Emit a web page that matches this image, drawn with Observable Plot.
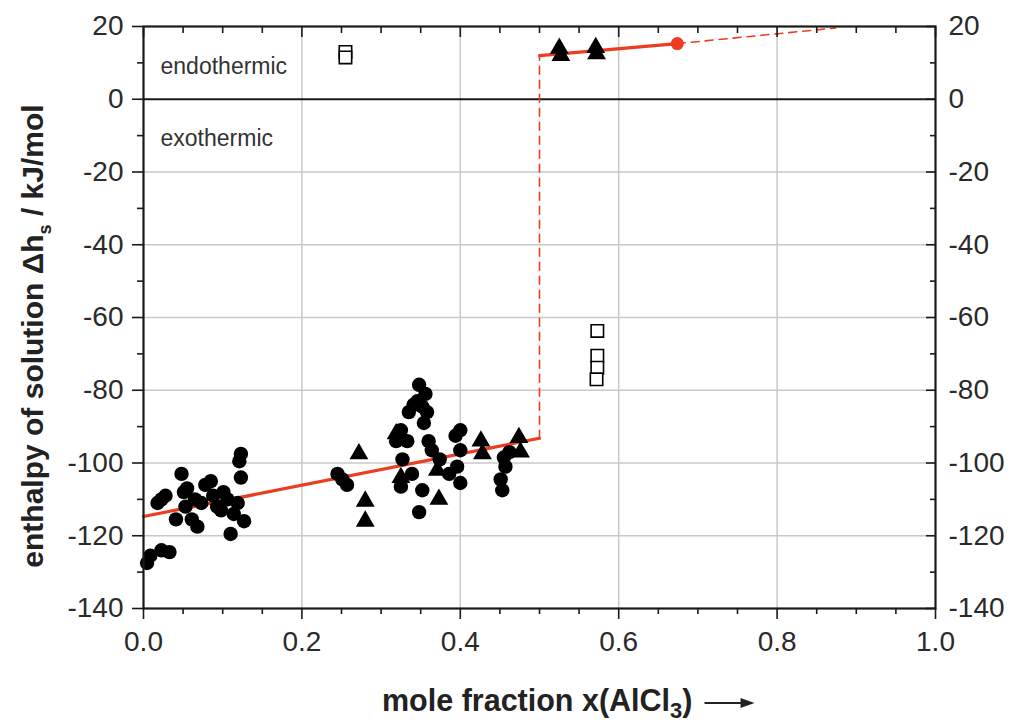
<!DOCTYPE html>
<html><head><meta charset="utf-8">
<script src="https://cdn.jsdelivr.net/npm/d3@7"></script>
<script src="https://cdn.jsdelivr.net/npm/@observablehq/plot@0.6"></script>
<style>body{margin:0;background:#fff;} svg{display:block;}</style>
</head><body><div id="chart"></div>
<script>
// ---- data ----
const circleX = [0.0045,0.0086,0.0227,0.0328,0.0177,0.0227,0.0278,0.041,0.048,0.051,0.053,0.055,0.061,0.068,0.065,0.073,0.078,0.085,0.088,0.093,0.098,0.101,0.106,0.110,0.114,0.119,0.121,0.123,0.123,0.127,
  0.245,0.251,0.257,0.319,0.325,0.327,0.325,0.333,0.335,0.339,0.341,0.346,0.348,0.352,0.354,0.356,0.358,0.352,0.348,0.360,0.364,0.374,0.386,0.394,0.400,0.400,0.396,0.400,0.455,0.457,0.451,0.453,0.462];
const circleY = [-127.5,-125.5,-124,-124.5,-111,-110,-109,-115.5,-103,-108,-112,-107,-115.5,-117.5,-110,-111,-106,-105,-109,-112,-113,-108,-110,-119.5,-114,-111,-99.5,-97.5,-104,-116,
  -103,-104.5,-106,-94,-91,-99,-106.5,-94,-86,-103,-84,-83,-78.5,-84.5,-89,-81,-86,-107.5,-113.5,-94,-96.5,-99,-103,-92.5,-91,-96.5,-101,-105.5,-98.5,-101,-104.5,-107.5,-97];
const triX = [0.272,0.280,0.280,0.319,0.325,0.371,0.373,0.426,0.428,0.474,0.476,0.525,0.527,0.571,0.572];
const triY = [-97.5,-110.5,-116,-92,-104,-102,-110,-94,-97.5,-93,-97,14,12,14.2,12.5];
const squareX = [0.255,0.255,0.573,0.573,0.573,0.572];
const squareY = [13,11.5,-63.7,-70.5,-73.8,-77];
const fitLowX = [0,0.5], fitLowY = [-114.7,-93.2];
const jumpX = [0.5,0.5], jumpY = [-93.2,12];
const fitHighX = [0.5,0.674], fitHighY = [12,15.3];
const extX = [0.674,0.874], extY = [15.3,19.6];
const markX = [0.674], markY = [15.3];
const majorY = [-140,-120,-100,-80,-60,-40,-20,0,20];
const minorY = [-130,-110,-90,-70,-50,-30,-10,10];
const majorX = [0,0.2,0.4,0.6,0.8,1.0];
const minorX = [0.05,0.1,0.15,0.25,0.3,0.35,0.45,0.5,0.55,0.65,0.7,0.75,0.85,0.9,0.95];
const gridXv = [0.2,0.4,0.6,0.8];
const gridYv = [-120,-100,-80,-60,-40,-20];
const notes = ["endothermic","exothermic"], noteX = [0.0215,0.0215], noteY = [9.0,-10.8];

const zip = (xs, ys) => xs.map((x,i)=>({x, y: ys[i]}));
const red = "#ef3b1f";
const ink = "#1a1a1a";
const fmtX = d => d.toFixed(1);
const fmtY = d => String(d);
const none = () => "";
const tickStyle = {label: null, stroke: ink, strokeWidth: 1.6};

const plot = Plot.plot({
  width: 1013, height: 724,
  marginLeft: 143, marginRight: 78, marginTop: 26, marginBottom: 116,
  style: {fontFamily: "Liberation Sans, Arial, sans-serif", fontSize: "28px", color: "#2a2a2a", background: "#fff"},
  x: {domain: [0,1]},
  y: {domain: [-140,20]},
  marks: [
    Plot.gridX(gridXv, {stroke: "#c8c8c8", strokeOpacity: 1, strokeWidth: 1.5}),
    Plot.gridY(gridYv, {stroke: "#c8c8c8", strokeOpacity: 1, strokeWidth: 1.5}),
    Plot.ruleY([0], {stroke: ink, strokeWidth: 2.2}),
    Plot.text(notes.map((t,i)=>({t, x: noteX[i], y: noteY[i]})), {x:"x", y:"y", text:"t", textAnchor:"start", fontSize: 23, fill: "#333"}),
    Plot.line(zip(fitLowX, fitLowY), {x:"x", y:"y", stroke: red, strokeWidth: 3.2}),
    Plot.line(zip(jumpX, jumpY), {x:"x", y:"y", stroke: red, strokeWidth: 1.6, strokeDasharray: "8,6"}),
    Plot.line(zip(fitHighX, fitHighY), {x:"x", y:"y", stroke: red, strokeWidth: 3.2}),
    Plot.line(zip(extX, extY), {x:"x", y:"y", stroke: red, strokeWidth: 1.6, strokeDasharray: "8,6"}),
    Plot.dot(zip(circleX, circleY), {x:"x", y:"y", r: 7.2, fill: "#000", stroke: "none"}),
    Plot.dot(zip(triX, triY), {x:"x", y:"y", r: 7, symbol: "triangle", fill: "#000", stroke: "none"}),
    Plot.dot(zip(squareX, squareY), {x:"x", y:"y", r: 7, symbol: "square", fill: "#fff", stroke: "#000", strokeWidth: 1.6}),
    Plot.dot(zip(markX, markY), {x:"x", y:"y", r: 6.5, fill: red, stroke: "none"}),
    Plot.frame({stroke: ink, strokeWidth: 2.2}),
    // left axis: labels + outward ticks
    Plot.axisY(majorY, {anchor: "left", tickSize: 0, tickPadding: 20, tickFormat: fmtY, label: null, fontSize: 28}),
    Plot.axisY(majorY, {anchor: "left", tickSize: 11, tickFormat: none, ...tickStyle}),
    Plot.axisY(minorY, {anchor: "left", tickSize: 6, tickFormat: none, ...tickStyle}),
    // right axis: labels + inward ticks
    Plot.axisY(majorY, {anchor: "right", tickSize: 0, tickPadding: 13, tickFormat: fmtY, label: null, fontSize: 28}),
    Plot.axisY(majorY, {anchor: "right", tickSize: -10, tickFormat: none, ...tickStyle}),
    Plot.axisY(minorY, {anchor: "right", tickSize: -6, tickFormat: none, ...tickStyle}),
    // bottom axis
    Plot.axisX(majorX, {anchor: "bottom", tickSize: 0, tickPadding: 23, tickFormat: fmtX, label: null, fontSize: 28}),
    Plot.axisX(majorX, {anchor: "bottom", tickSize: 11, tickFormat: none, ...tickStyle}),
    Plot.axisX(minorX, {anchor: "bottom", tickSize: 6, tickFormat: none, ...tickStyle}),
    // top axis
    Plot.axisX(majorX, {anchor: "top", tickSize: -10, tickFormat: none, ...tickStyle}),
    Plot.axisX(minorX, {anchor: "top", tickSize: -6, tickFormat: none, ...tickStyle})
  ]
});
document.getElementById("chart").appendChild(plot);

// axis titles with subscripts
const svg = d3.select(plot);
const yt = svg.append("text")
  .attr("transform", "translate(43,336) rotate(-90)")
  .attr("text-anchor", "middle")
  .attr("font-family", "Liberation Sans, Arial, sans-serif")
  .attr("font-weight", "bold").attr("font-size", 30).attr("fill", "#222");
yt.append("tspan").text("enthalpy of solution Δh");
yt.append("tspan").attr("font-size", 18).attr("dy", 8).text("s");
yt.append("tspan").attr("dy", -8).text(" / kJ/mol");

const xt = svg.append("text")
  .attr("x", 382).attr("y", 711)
  .attr("text-anchor", "start")
  .attr("font-family", "Liberation Sans, Arial, sans-serif")
  .attr("font-weight", "bold").attr("font-size", 30.5).attr("fill", "#222");
xt.append("tspan").text("mole fraction x(AlCl");
xt.append("tspan").attr("font-size", 22).attr("dy", 7).text("3");
xt.append("tspan").attr("dy", -7).text(")");
// arrow after the x title
const bb = xt.node().getBBox();
const ax0 = bb.x + bb.width + 12, ay = 703;
svg.append("line").attr("x1", ax0).attr("x2", ax0 + 38).attr("y1", ay).attr("y2", ay)
  .attr("stroke", "#222").attr("stroke-width", 2.2);
svg.append("path").attr("d", `M${ax0+36},${ay-5}L${ax0+50},${ay}L${ax0+36},${ay+5}Z`).attr("fill", "#222");
</script></body></html>
